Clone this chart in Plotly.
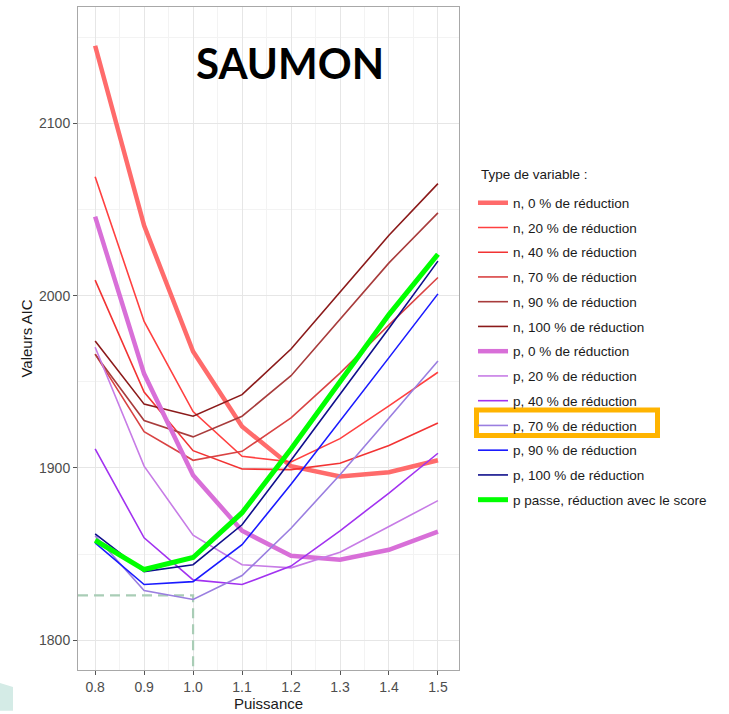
import plotly.graph_objects as go

puissance = [0.8, 0.9, 1.0, 1.1, 1.2, 1.3, 1.4, 1.5]

n_0 = [2145, 2040.6, 1967.5, 1924, 1901, 1895, 1897.5, 1904.4]
n_20 = [2069, 1985, 1932.7, 1906.7, 1903.5, 1917, 1936, 1955.5]
n_40 = [2009, 1944, 1910, 1899.4, 1899, 1902.7, 1913, 1926]
n_70 = [1966, 1921, 1904.4, 1909.6, 1929, 1955, 1983, 2010.5]
n_90 = [1966, 1927.5, 1918, 1930, 1953.5, 1986, 2019, 2048]
n_100 = [1973.7, 1937, 1930, 1942.5, 1969, 2002, 2035, 2065]
p_0 = [2045.8, 1954.6, 1895.8, 1863.5, 1849, 1846.7, 1852.5, 1863]
p_20 = [1970, 1901, 1861, 1843.8, 1842, 1851, 1866, 1881]
p_40 = [1911, 1859.4, 1835, 1832.3, 1843, 1863.5, 1885.4, 1908.5]
p_70 = [1860.6, 1828.8, 1823.6, 1837.5, 1865, 1896, 1929, 1962]
p_90 = [1856.5, 1832.3, 1834, 1855.4, 1890.5, 1927, 1964, 2001]
p_100 = [1861.7, 1839.8, 1843.8, 1867, 1904.4, 1942.5, 1981, 2020]
p_passe = [1858, 1841, 1848, 1874, 1911, 1950, 1989, 2024]

names = [
    "n, 0 % de réduction", "n, 20 % de réduction", "n, 40 % de réduction",
    "n, 70 % de réduction", "n, 90 % de réduction", "n, 100 % de réduction",
    "p, 0 % de réduction", "p, 20 % de réduction", "p, 40 % de réduction",
    "p, 70 % de réduction", "p, 90 % de réduction", "p, 100 % de réduction",
    "p passe, réduction avec le score",
]
series = [n_0, n_20, n_40, n_70, n_90, n_100, p_0, p_20, p_40, p_70, p_90, p_100, p_passe]
colors = ["#ff6b6b", "#ff4040", "#f23333", "#d94343", "#a83c3c", "#8b1a1a",
          "#d86fd8", "#c77ce6", "#a232f0", "#9a7ee0", "#1a1aff", "#0f0f8c", "#00ff00"]
widths = [4.5, 1.6, 1.6, 1.6, 1.6, 1.6, 4.5, 1.6, 1.6, 1.6, 1.6, 1.6, 5]

ref_x = 1.0
ref_y = 1826
x_range = [0.765, 1.543]
y_range = [1782.7, 2167.5]

fig = go.Figure()

# reference dashed lines
fig.add_trace(go.Scatter(
    x=[x_range[0], ref_x, ref_x], y=[ref_y, ref_y, y_range[0]],
    mode="lines", line=dict(color="#a9cdb6", width=2.2, dash="10px,6px"),
    showlegend=False, hoverinfo="skip"))

for i, (nm, ys, c, w) in enumerate(zip(names, series, colors, widths)):
    fig.add_trace(go.Scatter(
        x=puissance, y=ys, mode="lines", name=nm,
        line=dict(color=c, width=w), legendgroup=nm))


def px2paper_x(px):
    return (px - 78) / 381.0


def px2paper_y(py):
    return (673 - py) / 667.0


fig.update_layout(
    width=729, height=714,
    margin=dict(l=78, r=270, t=6, b=41),
    paper_bgcolor="white", plot_bgcolor="white",
    font=dict(family="Liberation Sans, Arial, sans-serif", color="#1a1a1a"),
    showlegend=True,
    legend=dict(
        x=px2paper_x(473), xanchor="left", y=px2paper_y(187.5), yanchor="top",
        font=dict(size=13.5, color="#1a1a1a"),
        tracegroupgap=4.2, bgcolor="rgba(0,0,0,0)",
    ),
    xaxis=dict(
        range=x_range, tick0=0.8, dtick=0.1, tickformat=".1f",
        showgrid=True, gridcolor="#e6e6e6", gridwidth=1,
        minor=dict(dtick=0.05, showgrid=True, gridcolor="#f3f3f3", gridwidth=1),
        showline=True, linecolor="#a8a8a8", linewidth=1, mirror=True,
        ticks="outside", ticklen=4, tickcolor="#555555",
        tickfont=dict(size=14, color="#4d4d4d"),
        title=dict(text="Puissance", font=dict(size=15, color="#1a1a1a"), standoff=3),
        zeroline=False,
    ),
    yaxis=dict(
        range=y_range, tick0=1800, dtick=100,
        showgrid=True, gridcolor="#e6e6e6", gridwidth=1,
        minor=dict(dtick=50, showgrid=True, gridcolor="#f3f3f3", gridwidth=1),
        showline=True, linecolor="#a8a8a8", linewidth=1, mirror=True,
        ticks="outside", ticklen=4, tickcolor="#555555",
        tickfont=dict(size=14, color="#4d4d4d"),
        title=dict(text="Valeurs AIC", font=dict(size=15, color="#1a1a1a"), standoff=2),
        zeroline=False,
    ),
)

# legend title
fig.add_annotation(
    text="Type de variable :", xref="paper", yref="paper",
    x=px2paper_x(479), y=px2paper_y(175), xanchor="left", yanchor="middle",
    showarrow=False, font=dict(size=13.5, color="#1a1a1a"))

# Title annotation
fig.add_annotation(
    text="<b>SAUMON</b>", xref="paper", yref="paper", x=0.5564, y=0.916,
    xanchor="center", yanchor="middle", showarrow=False,
    font=dict(family="Lato, Open Sans, sans-serif", size=42, color="black"))

# highlight box around legend entry
fig.add_shape(type="rect", xref="paper", yref="paper",
              x0=px2paper_x(476.5), x1=px2paper_x(657.5),
              y0=px2paper_y(411.5), y1=px2paper_y(437),
              line=dict(color="#ffb400", width=5), fillcolor="rgba(0,0,0,0)")

# slide decoration bottom-left
pts = [(0, 686), (13, 690), (13, 714), (0, 714)]
path = "M " + " L ".join(f"{px2paper_x(a):.4f},{px2paper_y(b):.4f}" for a, b in pts) + " Z"
fig.add_shape(type="path", xref="paper", yref="paper", path=path,
              line=dict(width=0), fillcolor="#d4ebe6", layer="below")

fig.write_html("out.html")
